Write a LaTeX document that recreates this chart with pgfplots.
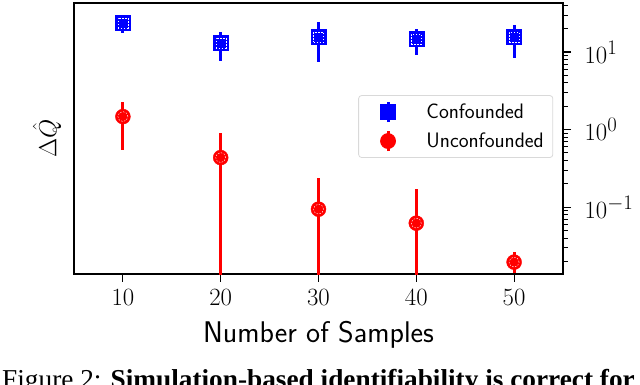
\documentclass[border=0pt]{standalone}
\usepackage{pgfplots}
\pgfplotsset{compat=1.18}
\usepackage{fontspec}
\newfontfamily\capfont{Liberation Serif}

% x = number of samples, y = mean Delta Q, ep/em = error above/below
\pgfplotstableread{
x  y     ep     em
10 23.7  6.3    6.2
20 13.1  5.0    5.4
30 15.6  8.8    8.2
40 14.7  5.1    5.5
50 15.6  6.7    7.2
}\confounded
\pgfplotstableread{
x  y      ep      em
10 1.47   0.83    0.92
20 0.435  0.48    0.434
30 0.094  0.143   0.093
40 0.062  0.109   0.061
50 0.0195 0.0067  0.0054
}\unconfounded

\begin{document}
\begin{tikzpicture}[x=1bp,y=1bp]
\clip (0,0) rectangle (640,384);
\begin{axis}[
    at={(74bp,110bp)}, anchor=south west,
    scale only axis, width=489bp, height=271bp,
    xmin=5, xmax=55,
    ymode=log, ymin=0.0137, ymax=42.9,
    xtick={10,20,30,40,50},
    ytick={0.1,1,10},
    minor ytick={0.02,0.03,0.04,0.05,0.06,0.07,0.08,0.09,
                 0.2,0.3,0.4,0.5,0.6,0.7,0.8,0.9,
                 2,3,4,5,6,7,8,9,20,30,40},
    xtick pos=lower, ytick pos=right, yticklabel pos=right,
    tick align=outside,
    major tick length=8bp, minor tick length=4.5bp,
    major tick style={black, line width=1.1bp},
    minor tick style={black, line width=0.8bp},
    axis line style={line width=1.2bp},
    ticklabel style={font=\fontsize{28}{28}\selectfont},
    xticklabel style={yshift=-4bp},
    yticklabel style={xshift=10bp},
    every axis x label/.style={at={(axis description cs:0.5,-0.225)}, anchor=center},
    every axis y label/.style={at={(axis description cs:-0.055,0.5)}, rotate=90, anchor=center},
    xlabel={\sffamily\fontsize{30}{30}\selectfont Number of Samples},
    ylabel={\fontsize{30}{30}\selectfont $\Delta\hat{Q}$},
    legend style={at={(rel axis cs:0.98,0.66)}, anchor=north east,
        draw=black!15, rounded corners=3bp, line width=0.8bp,
        font=\sffamily\fontsize{21}{21}\selectfont,
        inner xsep=7bp, inner ysep=5bp, row sep=6bp},
    legend cell align=left,
]
\addplot+[only marks, blue, mark=square*, mark size=7.5bp,
    mark options={fill=blue, draw=blue},
    legend image code/.code={
        \path (0bp,0bp) (58bp,0bp);
        \draw[blue, line width=3bp] (22bp,-10bp) -- (22bp,10bp);
        \draw[blue, fill=blue, mark=square*, mark size=7.5bp] plot coordinates {(22bp,0bp)};},
    error bars/.cd, y dir=both, y explicit,
    error bar style={line width=3bp, blue}, error mark=none]
    table[x=x, y=y, y error plus=ep, y error minus=em] {\confounded};
\addlegendentry{Confounded}
\addplot+[only marks, red, mark=*, mark size=7.5bp,
    mark options={fill=red, draw=red},
    legend image code/.code={
        \path (0bp,0bp) (58bp,0bp);
        \draw[red, line width=3bp] (22bp,-10bp) -- (22bp,10bp);
        \draw[red, fill=red, mark=*, mark size=7.5bp] plot coordinates {(22bp,0bp)};},
    error bars/.cd, y dir=both, y explicit,
    error bar style={line width=3bp, red}, error mark=none]
    table[x=x, y=y, y error plus=ep, y error minus=em] {\unconfounded};
\addlegendentry{Unconfounded}
% white dotted inner outline of the markers
\addplot[only marks, mark=square, mark size=5bp, forget plot,
    mark options={draw=white, line width=0.4bp, dash pattern=on 1.5bp off 1.5bp}]
    table[x=x, y=y] {\confounded};
\addplot[only marks, mark=o, mark size=5bp, forget plot,
    mark options={draw=white, line width=0.4bp, dash pattern=on 1.5bp off 1.5bp}]
    table[x=x, y=y] {\unconfounded};
\end{axis}
\node[anchor=base west, inner sep=0] at (2,-4)
    {\capfont\fontsize{27.4}{28}\selectfont Figure 2: \textbf{Simulation-based identifiability is correct for}};
\end{tikzpicture}
\end{document}
